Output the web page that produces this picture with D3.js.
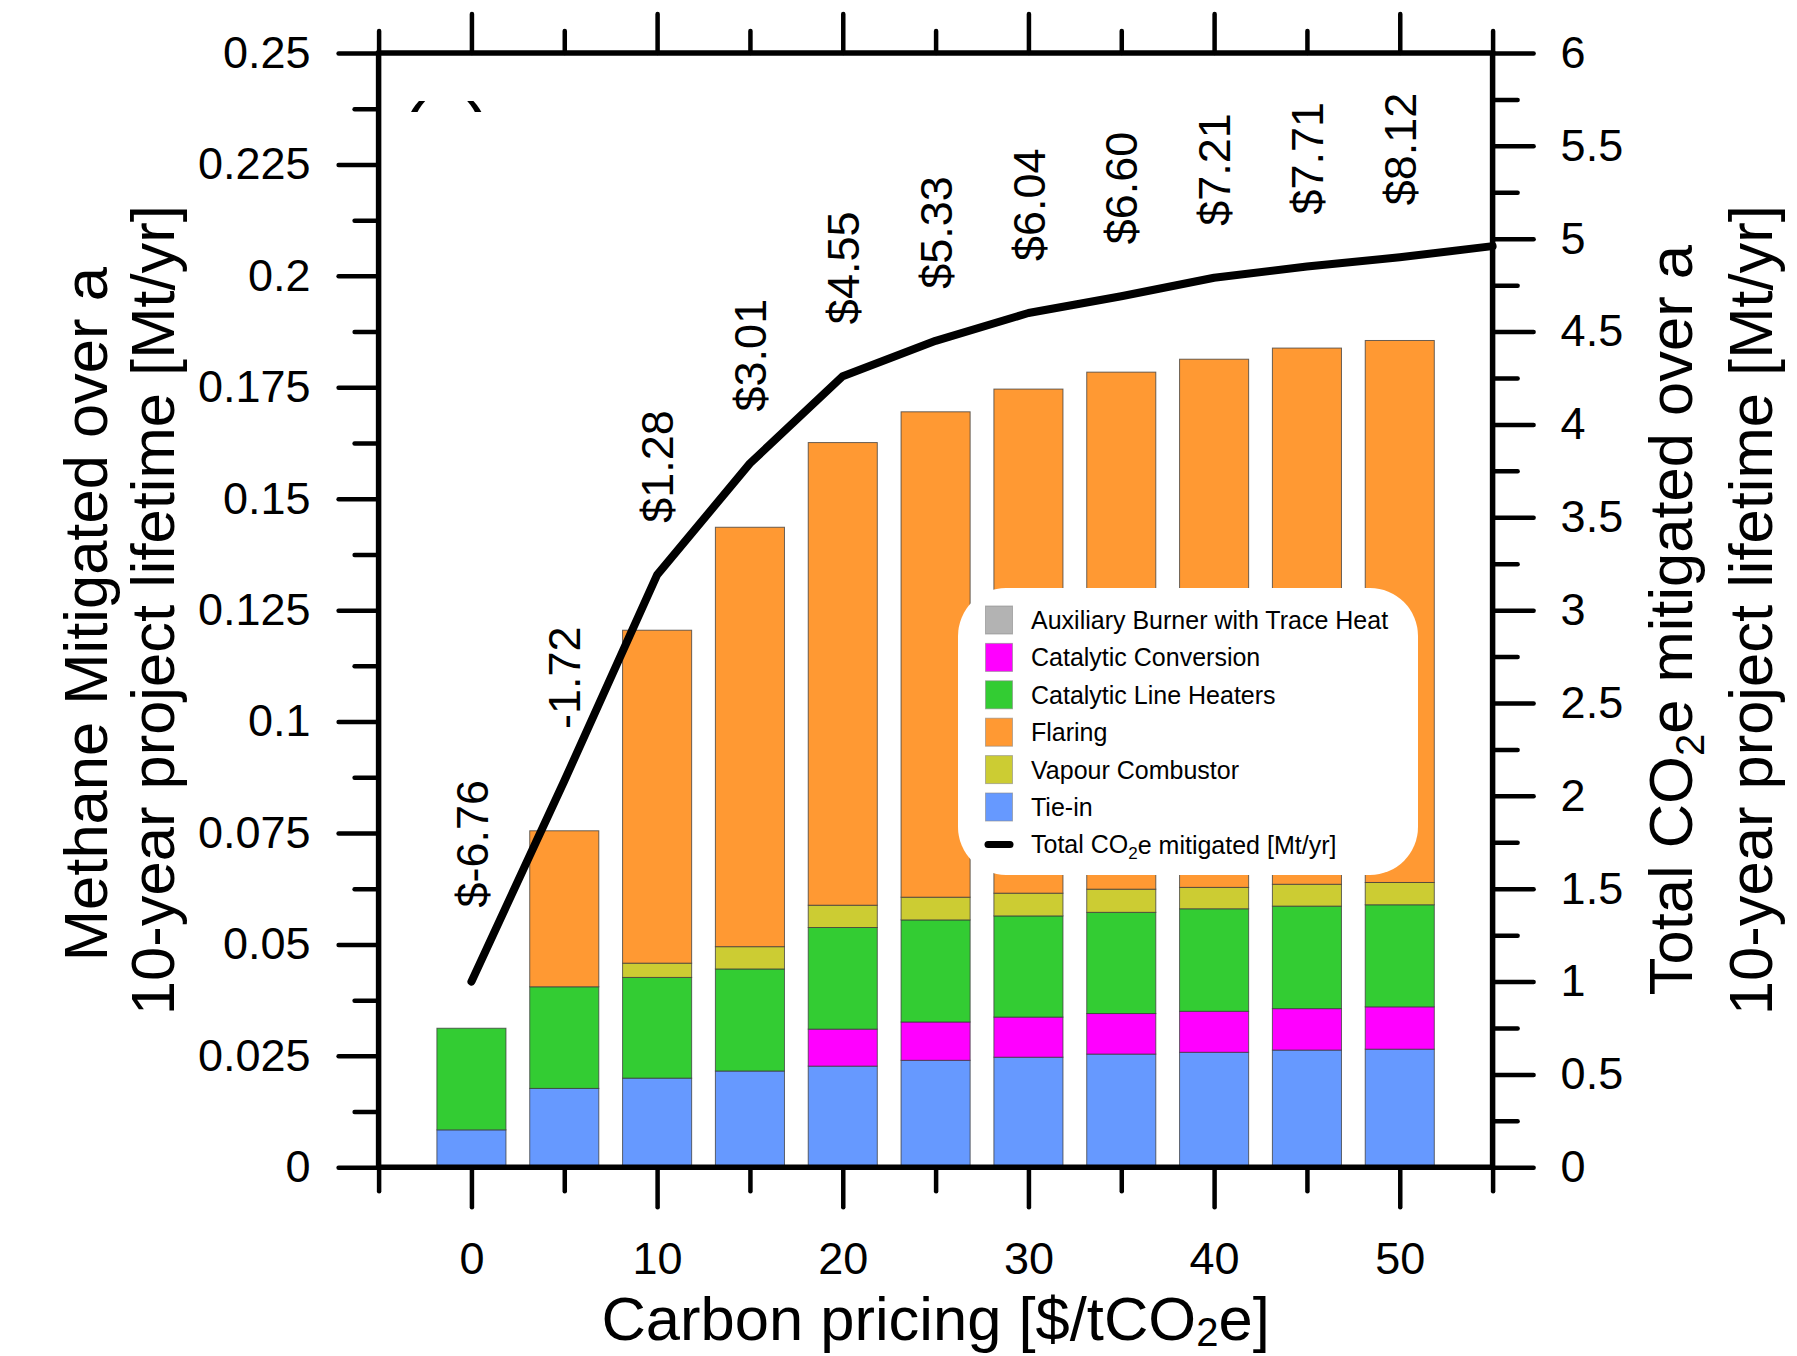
<!DOCTYPE html>
<html>
<head>
<meta charset="utf-8">
<script src="https://cdn.jsdelivr.net/npm/d3@7"></script>
<style>
  html, body { margin: 0; padding: 0; background: #fff; }
  svg { display: block; font-family: "Liberation Sans", Arial, Helvetica, sans-serif; }
</style>
</head>
<body>
<script>
// Carbon price levels [$/tCO2e]
const priceLevels = [0, 5, 10, 15, 20, 25, 30, 35, 40, 45, 50];

// Methane mitigated by technology [Mt/yr]
const tieIn      = [0.0084, 0.0177, 0.0200, 0.0216, 0.0227, 0.0240, 0.0247, 0.0254, 0.0258, 0.0263, 0.0265];
const catConv    = [0, 0, 0, 0, 0.0083, 0.0086, 0.0090, 0.0091, 0.0092, 0.0093, 0.0095];
const catLine    = [0.0228, 0.0228, 0.0226, 0.0229, 0.0228, 0.0229, 0.0227, 0.0227, 0.0230, 0.0230, 0.0229];
const vapour     = [0, 0, 0.0032, 0.0050, 0.0050, 0.0051, 0.0051, 0.0052, 0.0048, 0.0049, 0.0050];
const flaring    = [0, 0.0350, 0.0747, 0.0941, 0.1038, 0.1089, 0.1131, 0.1160, 0.1185, 0.1203, 0.1216];
const auxBurner  = [0, 0, 0, 0, 0, 0, 0, 0, 0, 0, 0];

// Total CO2e mitigated [Mt/yr]
const co2ePrice  = [0, 5, 10, 15, 20, 25, 30, 35, 40, 45, 50, 55];
const co2eTotal  = [1.00, 2.08, 3.19, 3.79, 4.26, 4.45, 4.60, 4.69, 4.79, 4.85, 4.90, 4.96];

// Cost labels written above the line
const costLabels = ["$-6.76", "-1.72", "$1.28", "$3.01", "$4.55", "$5.33", "$6.04", "$6.60", "$7.21", "$7.71", "$8.12"];

// Axis ticks
const xMajorTicks = [0, 10, 20, 30, 40, 50];
const xMinorTicks = [-5, 5, 15, 25, 35, 45, 55];
const yLeftMajor  = [0, 0.025, 0.05, 0.075, 0.1, 0.125, 0.15, 0.175, 0.2, 0.225, 0.25];
const yLeftLabels = ["0", "0.025", "0.05", "0.075", "0.1", "0.125", "0.15", "0.175", "0.2", "0.225", "0.25"];
const yLeftMinor  = [0.0125, 0.0375, 0.0625, 0.0875, 0.1125, 0.1375, 0.1625, 0.1875, 0.2125, 0.2375];
const yRightMajor = [0, 0.5, 1, 1.5, 2, 2.5, 3, 3.5, 4, 4.5, 5, 5.5, 6];
const yRightMinor = [0.25, 0.75, 1.25, 1.75, 2.25, 2.75, 3.25, 3.75, 4.25, 4.75, 5.25, 5.75];

// Series, in stacking order
const seriesKeys   = ["tieIn", "catConv", "catLine", "vapour", "flaring", "auxBurner"];
const seriesValues = { tieIn, catConv, catLine, vapour, flaring, auxBurner };
const colors = {
  tieIn: "#6699ff", catConv: "#ff00ff", catLine: "#33cc33",
  vapour: "#cccc33", flaring: "#ff9933", auxBurner: "#b3b3b3"
};
const legendItems = [
  { key: "auxBurner", label: "Auxiliary Burner with Trace Heat" },
  { key: "catConv",   label: "Catalytic Conversion" },
  { key: "catLine",   label: "Catalytic Line Heaters" },
  { key: "flaring",   label: "Flaring" },
  { key: "vapour",    label: "Vapour Combustor" },
  { key: "tieIn",     label: "Tie-in" }
];

const W = 1797, H = 1356;
const plot = { left: 378.6, right: 1492.6, top: 53, bottom: 1167.3 };
const FONT_TICK = 45, FONT_TITLE = 61.5;

const svg = d3.select("body").append("svg").attr("width", W).attr("height", H);

const x = d3.scaleLinear().domain([-5, 55]).range([plot.left, plot.right]);
const yL = d3.scaleLinear().domain([0, 0.25]).range([plot.bottom, plot.top]);
const yR = d3.scaleLinear().domain([0, 6]).range([plot.bottom, plot.top]);

// Stacked bars
const rows = priceLevels.map((p, i) => {
  const r = { price: p };
  seriesKeys.forEach(k => r[k] = seriesValues[k][i]);
  return r;
});
const stacked = d3.stack().keys(seriesKeys)(rows);
const barHalf = (x(3.72) - x(0)) / 2;

const bars = svg.append("g");
stacked.forEach(layer => {
  bars.append("g")
    .attr("fill", colors[layer.key])
    .selectAll("rect")
    .data(layer.filter(d => d[1] - d[0] > 0))
    .join("rect")
    .attr("x", d => x(d.data.price) - barHalf)
    .attr("width", barHalf * 2)
    .attr("y", d => yL(d[1]))
    .attr("height", d => yL(d[0]) - yL(d[1]))
    .attr("stroke", "#3a3a3a")
    .attr("stroke-opacity", 0.75)
    .attr("stroke-width", 1);
});

// Total CO2e line
const lineData = co2ePrice.map((p, i) => ({ p, v: co2eTotal[i] }));
svg.append("path")
  .datum(lineData)
  .attr("fill", "none")
  .attr("stroke", "#000")
  .attr("stroke-width", 8)
  .attr("stroke-linecap", "round")
  .attr("stroke-linejoin", "round")
  .attr("d", d3.line().x(d => x(d.p)).y(d => yR(d.v)));

// Cost labels, rotated, sitting above the line; the first one clears the line's steep start
const labelGap = 52;
svg.append("g")
  .selectAll("text")
  .data(priceLevels.map((p, i) => ({ p, v: co2eTotal[i], t: costLabels[i], i })))
  .join("text")
  .attr("transform", d => `translate(${x(d.p)},${yR(d.v) - labelGap - (d.i === 0 ? 22 : 0)}) rotate(-90)`)
  .attr("dy", "0.36em")
  .attr("font-size", FONT_TICK)
  .attr("fill", "#000")
  .text(d => d.t);

// Panel letter, clipped at the top
svg.append("clipPath").attr("id", "panelClip")
  .append("rect").attr("x", 395).attr("y", 99).attr("width", 100).attr("height", 13);
svg.append("text")
  .attr("clip-path", "url(#panelClip)")
  .attr("x", 401).attr("y", 154.6)
  .attr("font-size", 74)
  .text("(a)");

// Legend
const lg = svg.append("g");
lg.append("rect")
  .attr("x", 958).attr("y", 588).attr("width", 460).attr("height", 287)
  .attr("rx", 48).attr("ry", 48)
  .attr("fill", "#fff");
const rowY = i => 620 + i * 37.4;
legendItems.forEach((it, i) => {
  lg.append("rect")
    .attr("x", 985.5).attr("y", rowY(i) - 14).attr("width", 27).attr("height", 28)
    .attr("fill", colors[it.key])
    .attr("stroke", "#888").attr("stroke-opacity", 0.6).attr("stroke-width", 1);
  lg.append("text")
    .attr("x", 1031).attr("y", rowY(i)).attr("dy", "0.36em")
    .attr("font-size", 25).attr("fill", "#000")
    .text(it.label);
});
{
  const ly = rowY(6);
  lg.append("line")
    .attr("x1", 988).attr("x2", 1010).attr("y1", ly).attr("y2", ly)
    .attr("stroke", "#000").attr("stroke-width", 7).attr("stroke-linecap", "round");
  const t = lg.append("text")
    .attr("x", 1031).attr("y", ly).attr("dy", "0.36em")
    .attr("font-size", 25).attr("fill", "#000");
  t.append("tspan").text("Total CO");
  t.append("tspan").attr("font-size", 17).attr("dy", "0.3em").text("2");
  t.append("tspan").attr("dy", "-0.2em").text("e mitigated [Mt/yr]");
}

// Axes
const tickStyle = g => {
  g.select(".domain").remove();
  g.selectAll(".tick line").attr("stroke", "#000").attr("stroke-width", 4.5).attr("stroke-linecap", "round");
  g.selectAll(".tick text").attr("font-size", FONT_TICK).attr("fill", "#000")
    .attr("font-family", "'Liberation Sans', Arial, sans-serif");
};

// bottom
svg.append("g").attr("transform", `translate(0,${plot.bottom})`)
  .call(d3.axisBottom(x).tickValues(xMajorTicks).tickSize(40).tickPadding(35).tickFormat(d3.format("d")))
  .call(tickStyle);
svg.append("g").attr("transform", `translate(0,${plot.bottom})`)
  .call(d3.axisBottom(x).tickValues(xMinorTicks).tickSize(24).tickFormat(""))
  .call(tickStyle);
// top
svg.append("g").attr("transform", `translate(0,${plot.top})`)
  .call(d3.axisTop(x).tickValues(xMajorTicks).tickSize(39).tickFormat(""))
  .call(tickStyle);
svg.append("g").attr("transform", `translate(0,${plot.top})`)
  .call(d3.axisTop(x).tickValues(xMinorTicks).tickSize(22).tickFormat(""))
  .call(tickStyle);
// left
svg.append("g").attr("transform", `translate(${plot.left},0)`)
  .call(d3.axisLeft(yL).tickValues(yLeftMajor).tickSize(40).tickPadding(28)
    .tickFormat((d, i) => yLeftLabels[i]))
  .call(tickStyle);
svg.append("g").attr("transform", `translate(${plot.left},0)`)
  .call(d3.axisLeft(yL).tickValues(yLeftMinor).tickSize(24).tickFormat(""))
  .call(tickStyle);
// right
svg.append("g").attr("transform", `translate(${plot.right},0)`)
  .call(d3.axisRight(yR).tickValues(yRightMajor).tickSize(41).tickPadding(27).tickFormat(d3.format("")))
  .call(tickStyle);
svg.append("g").attr("transform", `translate(${plot.right},0)`)
  .call(d3.axisRight(yR).tickValues(yRightMinor).tickSize(25).tickFormat(""))
  .call(tickStyle);

// Frame lines
const frame = svg.append("g").attr("stroke", "#000").attr("stroke-width", 5.5).attr("stroke-linecap", "butt");
frame.append("line").attr("x1", plot.left - 2).attr("x2", plot.right + 2).attr("y1", plot.top).attr("y2", plot.top);
frame.append("line").attr("x1", plot.left - 2).attr("x2", plot.right + 2).attr("y1", plot.bottom).attr("y2", plot.bottom);
frame.append("line").attr("x1", plot.left).attr("x2", plot.left).attr("y1", plot.top - 2).attr("y2", plot.bottom + 2);
frame.append("line").attr("x1", plot.right).attr("x2", plot.right).attr("y1", plot.top - 2).attr("y2", plot.bottom + 2);

// Axis titles
const midY = (plot.top + plot.bottom) / 2;
const xt = svg.append("text")
  .attr("x", x(25)).attr("y", 1340)
  .attr("text-anchor", "middle").attr("font-size", FONT_TITLE).attr("fill", "#000");
xt.append("tspan").text("Carbon pricing [$/tCO");
xt.append("tspan").attr("font-size", 40).attr("dy", "0.14em").text("2");
xt.append("tspan").attr("dy", "-0.09em").text("e]");

const leftTitle = svg.append("text")
  .attr("transform", `translate(0,${midY}) rotate(-90)`)
  .attr("text-anchor", "middle").attr("font-size", FONT_TITLE).attr("fill", "#000");
leftTitle.append("tspan").attr("x", -4).attr("y", 107).text("Methane Mitigated over a");
leftTitle.append("tspan").attr("x", 0).attr("y", 174).text("10-year project lifetime [Mt/yr]");

const rightTitle = svg.append("text")
  .attr("transform", `translate(0,${midY}) rotate(-90)`)
  .attr("text-anchor", "middle").attr("font-size", FONT_TITLE).attr("fill", "#000");
const r1 = rightTitle.append("tspan").attr("x", -10).attr("y", 1692);
r1.append("tspan").text("Total CO");
r1.append("tspan").attr("font-size", 40).attr("dy", "0.3em").text("2");
r1.append("tspan").attr("dy", "-0.2em").text("e mitigated over a");
rightTitle.append("tspan").attr("x", 0).attr("y", 1772).text("10-year project lifetime [Mt/yr]");
</script>
</body>
</html>
